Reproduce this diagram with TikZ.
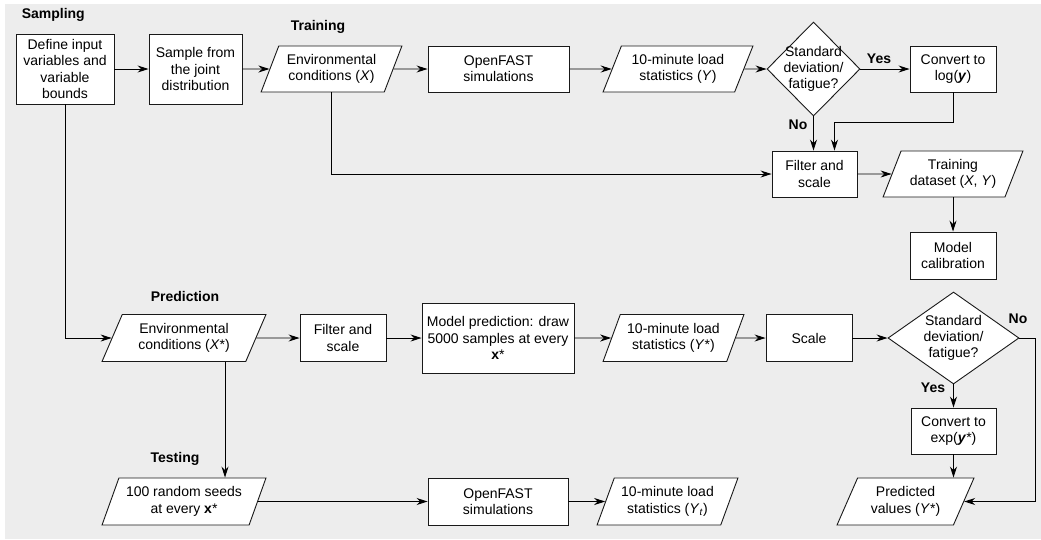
\documentclass[tikz,border=0pt]{standalone}
\usepackage{fontspec}
\setmainfont{Liberation Sans}
\usepackage{tikz}
\usetikzlibrary{arrows.meta,shapes.geometric,calc}
\definecolor{panel}{RGB}{237,237,237}

\begin{document}
\begin{tikzpicture}
[x=1pt,y=-1pt,
 font=\fontsize{14}{16.3}\selectfont,
 >={Stealth[length=11pt,width=7pt]},
 line width=0.9pt,
 box/.style={rectangle,draw=black!90,fill=white,align=center,inner sep=2pt},
 io/.style={trapezium,trapezium left angle=64,trapezium right angle=116,trapezium stretches=true,draw=black!90,fill=white,align=center,inner sep=1pt},
 decision/.style={diamond,draw=black!90,fill=white,inner sep=0pt},
 heading/.style={font=\fontsize{14}{16.3}\selectfont\bfseries}]
\useasboundingbox (0,0) rectangle (1041,539);
\fill [panel] (5,4) rectangle (1041,539);

% sampling
\node[heading,anchor=west] (00) at (18,15) {Sampling};
\node[box] (11) at (65,69) [minimum width=98pt,minimum height=70pt] {Define input\\variables and\\variable\\bounds};
\node[box] (12) at (195.5,69) [minimum width=93pt,minimum height=70pt] {Sample from\\the joint\\distribution};

% training
\node[heading] (01) at (318,27) {Training};
\node[io] (13) at (331.5,69) [minimum width=141pt,minimum height=46pt] {Environmental\\conditions (\textit{X})};
\node[box] (14) at (498.5,69) [minimum width=141pt,minimum height=46pt] {OpenFAST\\simulations};
\node[io] (15) at (678,69) [minimum width=150pt,minimum height=46pt] {10-minute load\\statistics (\textit{Y})};
\node[decision] (16) at (813.5,69) [minimum width=93pt,minimum height=94pt,label={[align=center]center:Standard\\deviation/\\fatigue?}] {};
\node[box] (17) at (953,69) [minimum width=86pt,minimum height=46pt] {Convert to\\log(\textbf{\textit{y}})};
\node[heading] (y1) at (879,59) {Yes};
\node[heading] (n1) at (798,125) {No};
\node[box] (26) at (814.5,174) [minimum width=85pt,minimum height=46pt] {Filter and\\scale};
\node[io] (27) at (953,174) [minimum width=140pt,minimum height=46pt] {Training\\dataset (\textit{X}, \textit{Y})};
\node[box] (37) at (953,255.5) [minimum width=86pt,minimum height=47pt] {Model\\calibration};

\draw [->] (11) -- (12);
\draw [->] (12) -- (13);
\draw [->] (13) -- (14);
\draw [->] (14) -- (15);
\draw [->] (15) -- (16);
\draw [->] (16) -- (17);
\draw [->] (16.south) -- (16.south |- 26.north);
\draw [->] (17.south) -- ++(0,30) -| ($(26.north)+(20,0)$);
\draw [->] (13.south) |- (26.west);
\draw [->] (26) -- (27);
\draw [->] (27.south) -- (27.south |- 37.north);

% prediction
\node[heading] (02) at (185,296) {Prediction};
\node[io] (41) at (184,338) [minimum width=164pt,minimum height=47pt] {Environmental\\conditions (\textit{X}*)};
\node[box] (42) at (343,338) [minimum width=86pt,minimum height=47pt] {Filter and\\scale};
\node[box] (43) at (498,338) [minimum width=152pt,minimum height=70pt] {Model prediction: draw\\5000 samples at every\\\textbf{x}*};
\node[io] (44) at (673.5,338) [minimum width=141pt,minimum height=47pt] {10-minute load\\statistics (\textit{Y}*)};
\node[box] (45) at (809,338) [minimum width=86pt,minimum height=47pt] {Scale};
\node[decision] (46) at (953.5,338) [minimum width=131pt,minimum height=92pt,label={[align=center]center:Standard\\deviation/\\fatigue?}] {};
\node[heading] (n2) at (1018,319) {No};
\node[heading] (y2) at (933,388) {Yes};
\node[box] (56) at (953.5,431) [minimum width=85pt,minimum height=46pt] {Convert to\\exp(\textbf{\textit{y}}*)};
\node[io] (66) at (905.5,501.5) [minimum width=137pt,minimum height=47pt] {Predicted\\values (\textit{Y}*)};

\draw [->] (11.south) |- (41.west);
\draw [->] (41) -- (42);
\draw [->] (42) -- (43);
\draw [->] (43) -- (44);
\draw [->] (44) -- (45);
\draw [->] (45) -- (46);
\draw [->] (46.south) -- (46.south |- 56.north);
\draw [->] (56.south) -- (56.south |- 66.north);
\draw [->] (46.east) -- ++(16,0) |- (66.east);

% testing
\node[heading] (03) at (175,459) {Testing};
\node[io] (61) at (184,501.5) [minimum width=164pt,minimum height=47pt] {100 random seeds\\at every \textbf{x}*};
\node[box] (63) at (498,501.5) [minimum width=140pt,minimum height=47pt] {OpenFAST\\simulations};
\node[io] (64) at (667.5,501.5) [minimum width=141pt,minimum height=47pt] {10-minute load\\statistics (\textit{Y}\textsubscript{\textit{t}})};

\coordinate (c41) at ($(41.south)+(41,0)$);
\draw [->] (c41) -- (c41 |- 61.north);
\draw [->] (61) -- (63);
\draw [->] (63) -- (64);
\end{tikzpicture}
\end{document}
